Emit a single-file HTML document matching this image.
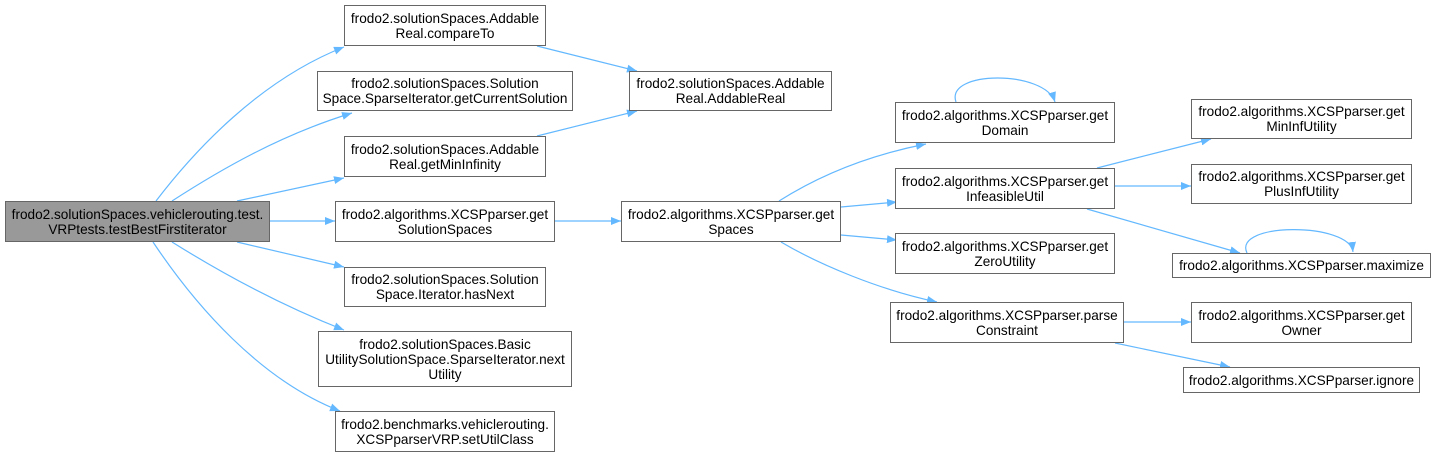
<!DOCTYPE html>
<html><head><meta charset="utf-8"><style>
body{margin:0;background:#fff;width:1432px;height:457px;position:relative;overflow:hidden;font-family:"Liberation Sans",Arial,sans-serif}
.b{position:absolute;box-sizing:border-box;border:1px solid #666;background:#fff;font-size:13.6px;line-height:15px;color:#000;display:flex;align-items:center;justify-content:center;text-align:center;white-space:nowrap}
svg{position:absolute;left:0;top:0}
</style></head><body>
<svg width="1432" height="457" viewBox="0 0 1432 457">
<defs><marker id="a" markerWidth="11" markerHeight="10" refX="10" refY="4" orient="auto" markerUnits="userSpaceOnUse"><path d="M0,0 L10,4 L0,8 z" fill="#63b8ff"/></marker></defs>
<g fill="none" stroke="#63b8ff" stroke-width="1.2" marker-end="url(#a)">
<path d="M156,201 C195,150 260,80 344,47"/>
<path d="M172,201 C220,170 280,135 352,113"/>
<path d="M237,201 L344,178"/>
<path d="M270,221 L335,221"/>
<path d="M237,242 L344,267"/>
<path d="M172,242 C220,272 280,305 344,330"/>
<path d="M153,242 C195,305 260,380 340,411"/>
<path d="M537,46 L637,71"/>
<path d="M537,136 L637,111"/>
<path d="M555,221 L621,221"/>
<path d="M779,201 C820,175 870,155 926,144"/>
<path d="M841,207 L897,202"/>
<path d="M841,235 L897,240"/>
<path d="M781,242 C820,265 880,290 937,302"/>
<path d="M956,102 C945,70 1045,70 1055,102"/>
<path d="M1097,168 L1211,139"/>
<path d="M1115,186 L1191,186"/>
<path d="M1087,209 L1240,253"/>
<path d="M1247,253 C1232,222 1350,222 1353,252"/>
<path d="M1124,322 L1191,322"/>
<path d="M1115,343 L1230,367"/>
</g></svg>
<div class="b" style="left:5px;top:201px;width:265px;height:41px;background:#999">frodo2.solutionSpaces.vehiclerouting.test.<br>VRPtests.testBestFirstiterator</div>
<div class="b" style="left:344px;top:5px;width:202px;height:41px">frodo2.solutionSpaces.Addable<br>Real.compareTo</div>
<div class="b" style="left:317px;top:71px;width:256px;height:40px">frodo2.solutionSpaces.Solution<br>Space.SparseIterator.getCurrentSolution</div>
<div class="b" style="left:344px;top:136px;width:202px;height:41px">frodo2.solutionSpaces.Addable<br>Real.getMinInfinity</div>
<div class="b" style="left:335px;top:201px;width:220px;height:41px">frodo2.algorithms.XCSPparser.get<br>SolutionSpaces</div>
<div class="b" style="left:344px;top:267px;width:202px;height:40px">frodo2.solutionSpaces.Solution<br>Space.Iterator.hasNext</div>
<div class="b" style="left:318px;top:331px;width:254px;height:56px">frodo2.solutionSpaces.Basic<br>UtilitySolutionSpace.SparseIterator.next<br>Utility</div>
<div class="b" style="left:335px;top:411px;width:220px;height:41px">frodo2.benchmarks.vehiclerouting.<br>XCSPparserVRP.setUtilClass</div>
<div class="b" style="left:629px;top:71px;width:203px;height:40px">frodo2.solutionSpaces.Addable<br>Real.AddableReal</div>
<div class="b" style="left:621px;top:201px;width:220px;height:41px">frodo2.algorithms.XCSPparser.get<br>Spaces</div>
<div class="b" style="left:895px;top:102px;width:220px;height:41px">frodo2.algorithms.XCSPparser.get<br>Domain</div>
<div class="b" style="left:895px;top:168px;width:220px;height:41px">frodo2.algorithms.XCSPparser.get<br>InfeasibleUtil</div>
<div class="b" style="left:895px;top:233px;width:220px;height:41px">frodo2.algorithms.XCSPparser.get<br>ZeroUtility</div>
<div class="b" style="left:890px;top:302px;width:234px;height:41px">frodo2.algorithms.XCSPparser.parse<br>Constraint</div>
<div class="b" style="left:1191px;top:99px;width:221px;height:40px">frodo2.algorithms.XCSPparser.get<br>MinInfUtility</div>
<div class="b" style="left:1191px;top:164px;width:221px;height:40px">frodo2.algorithms.XCSPparser.get<br>PlusInfUtility</div>
<div class="b" style="left:1172px;top:253px;width:259px;height:25px">frodo2.algorithms.XCSPparser.maximize</div>
<div class="b" style="left:1191px;top:302px;width:221px;height:41px">frodo2.algorithms.XCSPparser.get<br>Owner</div>
<div class="b" style="left:1183px;top:367px;width:237px;height:26px">frodo2.algorithms.XCSPparser.ignore</div>
</body></html>
